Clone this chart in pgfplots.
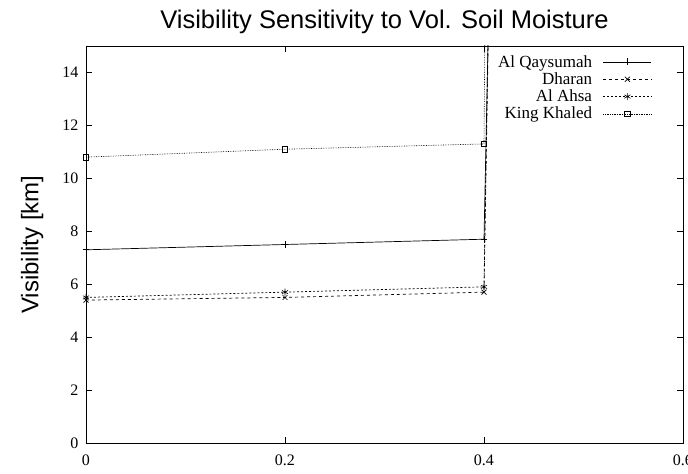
\documentclass[border=0pt]{standalone}
\usepackage{pgfplots}
\pgfplotsset{compat=1.18}
\usepackage{fontspec}
\setmainfont{Liberation Serif}
\setsansfont{Liberation Sans}
\begin{document}
\begin{tikzpicture}
\useasboundingbox (-86bp,-31bp) rectangle (602bp,443bp);
\begin{axis}[
  scale only axis,
  width=597bp, height=397bp,
  xmin=0, xmax=0.6, ymin=0, ymax=15,
  xtick={0,0.2,0.4,0.6},
  xticklabels={0,0.2,0.4,0.6},
  ytick={0,2,...,14},
  tick align=inside,
  major tick length=6bp,
  tick style={black, line width=0.5pt},
  axis line style={line width=0.9pt},
  tick label style={font=\fontsize{16bp}{18bp}\selectfont},
  xticklabel style={yshift=-8bp},
  yticklabel style={xshift=-4bp},
  /pgf/number format/assume math mode=true,
  title={Visibility Sensitivity to Vol. Soil Moisture},
  title style={font=\sffamily\fontsize{25.5bp}{28bp}\selectfont, at={(axis description cs:0.5,1)}, anchor=base, yshift=12bp},
  ylabel={Visibility [km]},
  ylabel style={font=\sffamily\fontsize{24bp}{28bp}\selectfont, at={(axis description cs:-0.09,0.5)}, anchor=center},
  legend plot pos=right,
  legend cell align=right,
  legend style={draw=none, fill=none, inner sep=0pt, at={(axis description cs:0.948,0.982)}, anchor=north east,
    font=\fontsize{17bp}{19bp}\selectfont, row sep=0bp,
    /tikz/every odd column/.append style={column sep=9bp}},
  legend image code/.code={\draw[mark repeat=2,mark phase=2,#1] plot coordinates {(0bp,0bp) (24bp,0bp) (48bp,0bp)};},
  every axis plot/.append style={black, line width=0.7pt, mark size=3.5pt, mark options={solid, line width=0.6pt}},
  clip=true,
]
\addplot[solid, mark=+] coordinates {(0,7.3) (0.2,7.5) (0.4,7.7) (0.5,190)};
\addlegendentry{Al Qaysumah}
\addplot[dashed, mark=x] coordinates {(0,5.4) (0.2,5.5) (0.4,5.7) (0.5,230)};
\addlegendentry{Dharan}
\addplot[dash pattern=on 2pt off 2pt, mark=asterisk] coordinates {(0,5.5) (0.2,5.7) (0.4,5.9) (0.5,240)};
\addlegendentry{Al Ahsa}
\addplot[densely dotted, line width=0.6pt, mark=square, mark size=2.8pt] coordinates {(0,10.8) (0.2,11.1) (0.4,11.3) (0.5,500)};
\addlegendentry{King Khaled}
\end{axis}
\end{tikzpicture}
\end{document}
